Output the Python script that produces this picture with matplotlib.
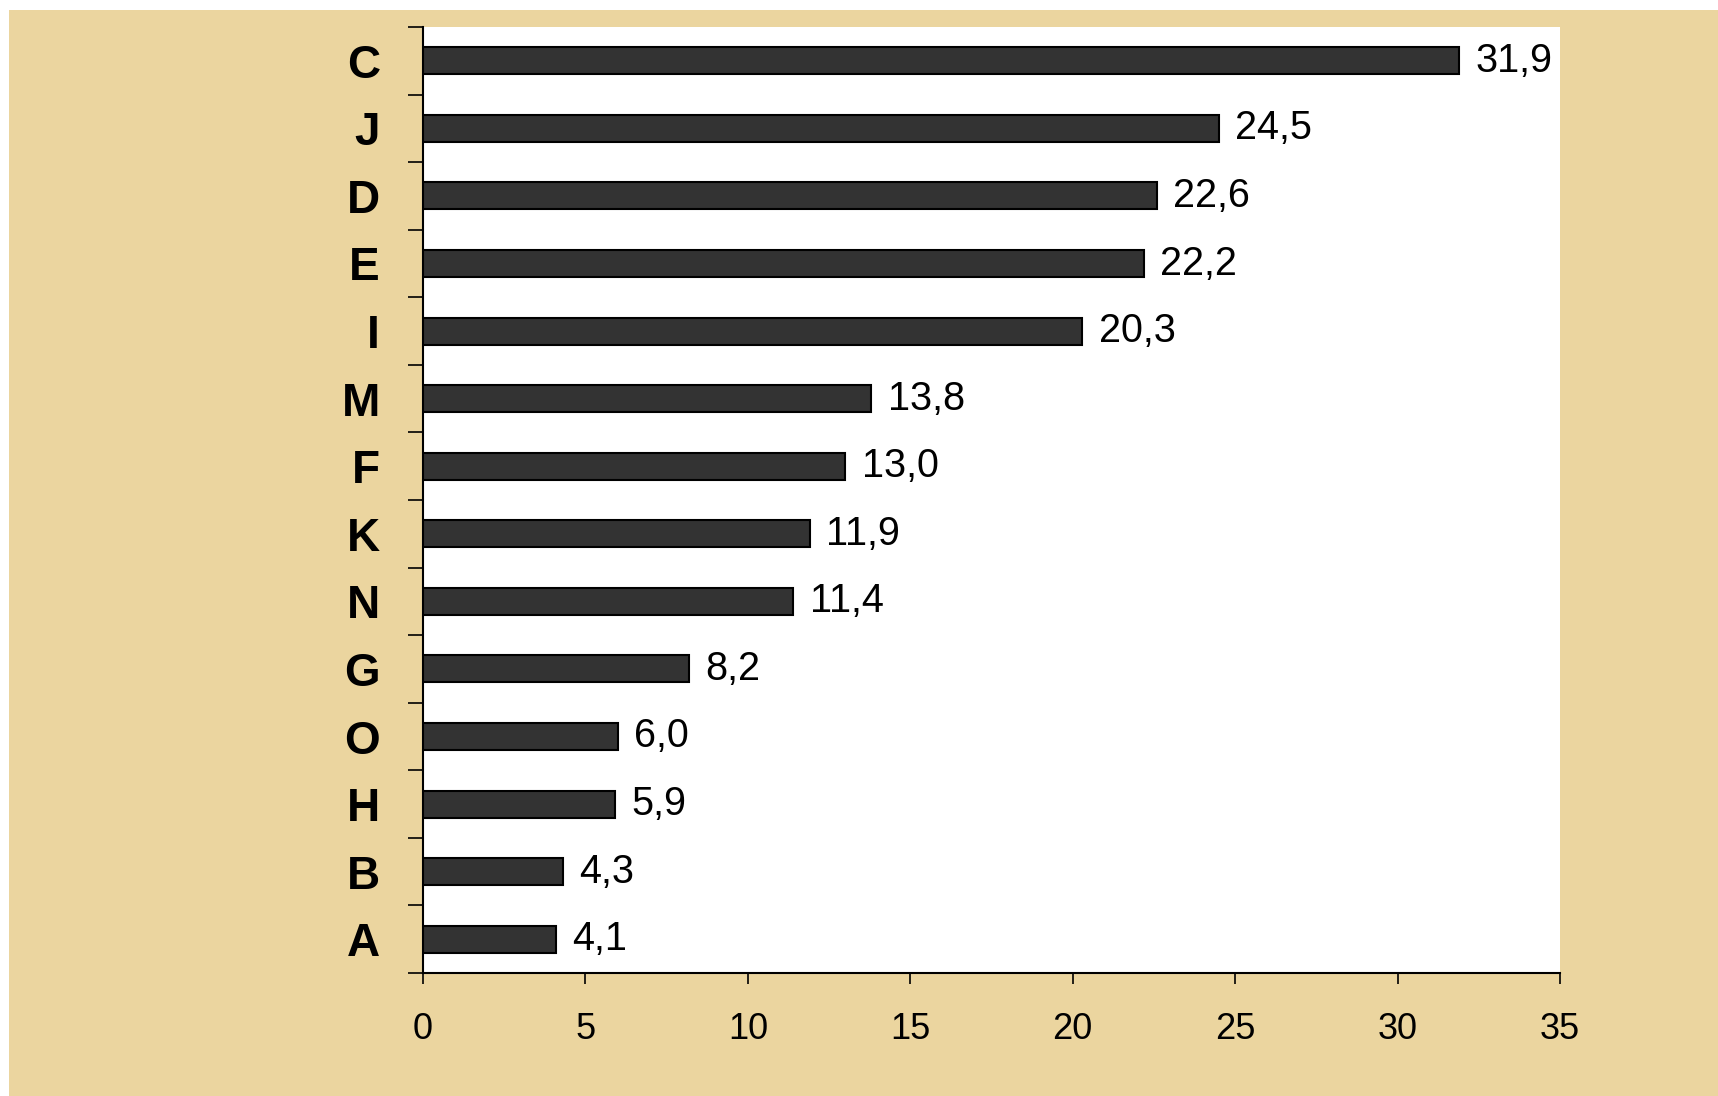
import matplotlib
matplotlib.use("Agg")
import matplotlib.pyplot as plt
from matplotlib.patches import Rectangle
from matplotlib.ticker import FixedLocator

# categories listed bottom to top
categories = ["A", "B", "H", "O", "G", "N", "K", "F", "M", "I", "E", "D", "J", "C"]
values = [4.1, 4.3, 5.9, 6.0, 8.2, 11.4, 11.9, 13.0, 13.8, 20.3, 22.2, 22.6, 24.5, 31.9]
x_ticks = [0, 5, 10, 15, 20, 25, 30, 35]

plt.rcParams["font.family"] = ["Liberation Sans", "DejaVu Sans"]

W, H = 1718, 1096
fig = plt.figure(figsize=(W / 100, H / 100), dpi=100, facecolor="white")

# parchment backdrop, leaving thin white strips on top and left like the source
fig.patches.append(Rectangle((9 / W, 0), 1, 1 - 10 / H, transform=fig.transFigure,
                             facecolor="#EBD59F", edgecolor="none", zorder=-10))

ax = fig.add_axes([423 / W, 1 - 973 / H, 1137 / W, 946 / H])
ax.set_facecolor("white")

pos = list(range(len(categories)))
ax.barh(pos, values, height=0.4, color="#333333", edgecolor="black", linewidth=1.5, zorder=3)

for p, v in zip(pos, values):
    ax.text(v + 0.5, p, f"{v:.1f}".replace(".", ","), va="center", ha="left",
            fontsize=28.5, color="black")

ax.set_xlim(0, 35)
ax.set_ylim(-0.5, len(categories) - 0.5)

ax.set_xticks(x_ticks)
ax.set_xticklabels([str(t) for t in x_ticks], fontsize=26)
ax.tick_params(axis="x", direction="out", length=8, width=1.2, pad=20)

ax.set_yticks(pos)
ax.set_yticklabels(categories, fontsize=33, fontweight="bold")
ax.tick_params(axis="y", which="major", length=0, pad=31)
ax.yaxis.set_minor_locator(FixedLocator([p - 0.5 for p in pos] + [pos[-1] + 0.5]))
ax.tick_params(axis="y", which="minor", direction="out", length=11, width=1.2)

for side in ("top", "right"):
    ax.spines[side].set_visible(False)
for side in ("left", "bottom"):
    ax.spines[side].set_linewidth(1.5)

fig.savefig("out.png", dpi=100, facecolor=fig.get_facecolor())
